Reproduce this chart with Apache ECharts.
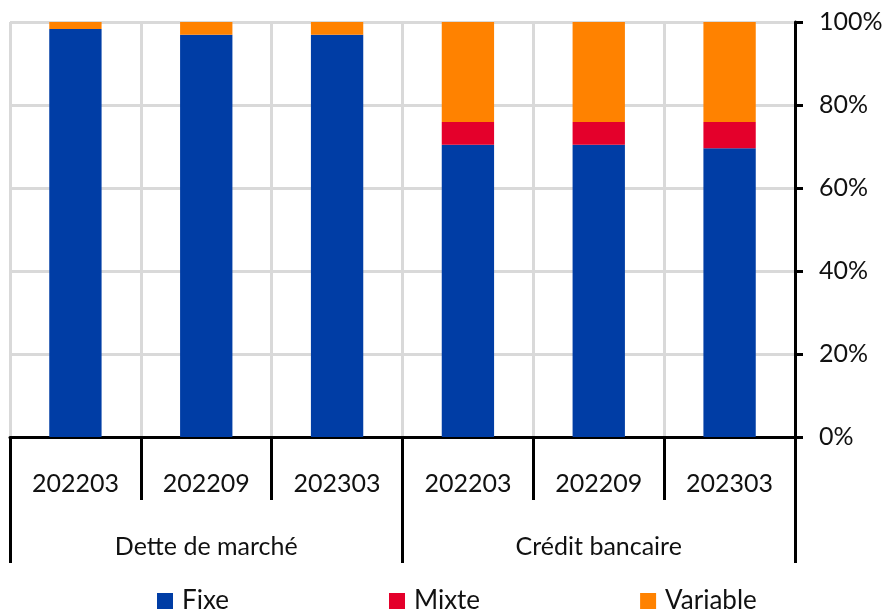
<!DOCTYPE html>
<html>
<head>
<meta charset="utf-8">
<script src="https://cdn.jsdelivr.net/npm/echarts@6/dist/echarts.min.js"></script>
<style>
html,body{margin:0;padding:0;background:#fff;}
#c{width:891px;height:612px;}
</style>
</head>
<body>
<div id="c"></div>
<script>
const periods = ['202203','202209','202303','202203','202209','202303'];
const groups = ['Dette de marché','Crédit bancaire'];
const seriesNames = ['Fixe','Mixte','Variable'];
const fixe = [98.3, 96.9, 96.9, 70.4, 70.4, 69.6];
const mixte = [0, 0, 0, 5.5, 5.5, 6.3];
const variable = [1.7, 3.1, 3.1, 24.1, 24.1, 24.1];
const yTicks = [0, 20, 40, 60, 80, 100];

const colors = ['#003DA5', '#E4002B', '#FF8200'];
const FONT = 'Lato';
const chart = echarts.init(document.getElementById('c'));
const values = [fixe, mixte, variable];
chart.setOption({
  animation: false,
  textStyle: {fontFamily: FONT},
  grid: {left: 10, right: 96, top: 22, bottom: 175, containLabel: false},
  legend: {
    data: seriesNames,
    top: 583,
    left: 152,
    icon: 'rect',
    itemWidth: 16,
    itemHeight: 16,
    itemGap: 160,
    textStyle: {fontSize: 26, color: '#111', fontFamily: FONT, padding: [0, 0, 0, 4]}
  },
  xAxis: [
    {
      type: 'category',
      data: periods,
      position: 'bottom',
      axisLine: {show: true, lineStyle: {color: '#000', width: 3}},
      axisTick: {show: true, interval: 0, length: 63, lineStyle: {color: '#000', width: 3}},
      axisLabel: {interval: 0, fontSize: 25, color: '#111', margin: 34, fontFamily: FONT},
      splitLine: {show: true, interval: 0, lineStyle: {color: '#d9d9d9', width: 3}}
    },
    {
      type: 'category',
      data: groups,
      position: 'bottom',
      axisLine: {show: false},
      axisTick: {show: true, interval: 0, length: 126, lineStyle: {color: '#000', width: 3}},
      axisLabel: {interval: 0, fontSize: 25, color: '#111', margin: 97, fontFamily: FONT},
      splitLine: {show: false}
    }
  ],
  yAxis: {
    type: 'value',
    position: 'right',
    min: yTicks[0],
    max: yTicks[yTicks.length - 1],
    interval: 20,
    axisLine: {show: true, lineStyle: {color: '#000', width: 3}},
    axisTick: {show: true, length: 8, lineStyle: {color: '#000', width: 3}},
    axisLabel: {formatter: '{value}%', fontSize: 25, color: '#111', margin: 24, fontFamily: FONT},
    splitLine: {show: true, lineStyle: {color: '#d9d9d9', width: 3}}
  },
  series: seriesNames.map((n, i) => ({
    name: n,
    type: 'bar',
    stack: 'total',
    xAxisIndex: 0,
    barWidth: '40%',
    itemStyle: {color: colors[i]},
    data: values[i]
  }))
});
</script>
</body>
</html>
